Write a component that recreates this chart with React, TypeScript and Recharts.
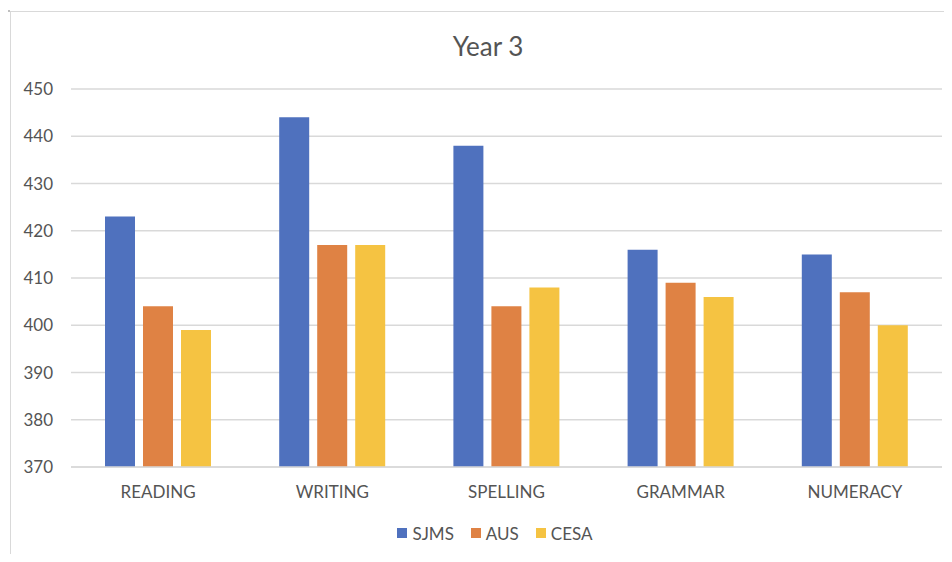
import { BarChart, Bar, XAxis, YAxis, CartesianGrid, Legend } from "recharts";

const categories = ["READING", "WRITING", "SPELLING", "GRAMMAR", "NUMERACY"];
const sjms = [423, 444, 438, 416, 415];
const aus = [404, 417, 404, 409, 407];
const cesa = [399, 417, 408, 406, 400];
const yTicks = [370, 380, 390, 400, 410, 420, 430, 440, 450];

const series = [
    { key: "SJMS", color: "#4F71BE" },
    { key: "AUS", color: "#DF8244" },
    { key: "CESA", color: "#F5C342" },
];

const data = categories.map((name, i) => ({
    name,
    SJMS: sjms[i],
    AUS: aus[i],
    CESA: cesa[i],
}));

const FONT = "Lato, 'Open Sans', sans-serif";
const TEXT = "#545454";

function LegendContent() {
    return (
        <div style={{ display: "flex", justifyContent: "center", alignItems: "center", height: 20, fontFamily: FONT, fontSize: 17, color: TEXT }}>
            {series.map((s, i) => (
                <div key={s.key} style={{ display: "flex", alignItems: "center", marginLeft: i === 0 ? 0 : 17 }}>
                    <span style={{ display: "inline-block", width: 10, height: 10, background: s.color, marginRight: 5 }} />
                    <span>{s.key}</span>
                </div>
            ))}
        </div>
    );
}

export default function App() {
    return (
        <div style={{ position: "relative", width: 952, height: 562, margin: -8, overflow: "hidden", background: "#fff" }}>
            {/* frame of the original chart area */}
            <div style={{ position: "absolute", left: 10, top: 11, width: 1000, height: 600, borderLeft: "1.5px solid #d9d9d9", borderTop: "1.5px solid #d9d9d9" }} />
            <div style={{ position: "absolute", left: 3, top: 10, width: 7, height: 1.5, background: "#bfbfbf" }} />
            <div style={{ position: "absolute", left: 0, width: 976, top: 30, textAlign: "center", fontFamily: FONT, fontSize: 26, color: TEXT, lineHeight: "32px" }}>
                Year 3
            </div>
            <div style={{ position: "absolute", left: 0, top: 0 }}>
                <BarChart
                    width={952}
                    height={562}
                    data={data}
                    margin={{ top: 89, right: 10, bottom: 19, left: 0 }}
                    barCategoryGap="19.5%"
                    barGap={8}
                >
                    <CartesianGrid horizontal vertical={false} stroke="#d9d9d9" strokeWidth={1.3} />
                    <XAxis
                        dataKey="name"
                        height={56}
                        tickSize={0}
                        tickMargin={19}
                        axisLine={{ stroke: "#d9d9d9", strokeWidth: 1.3 }}
                        tick={{ fill: TEXT, fontSize: 17, fontFamily: FONT }}
                    />
                    <YAxis
                        domain={[370, 450]}
                        ticks={yTicks}
                        width={71}
                        tickSize={0}
                        tickMargin={18}
                        axisLine={false}
                        tickLine={false}
                        tick={{ fill: TEXT, fontSize: 17, fontFamily: FONT }}
                    />
                    <Legend
                        verticalAlign="bottom"
                        content={() => <LegendContent />}
                        wrapperStyle={{ left: 30, width: 930 }}
                    />
                    {series.map((s) => (
                        <Bar key={s.key} dataKey={s.key} fill={s.color} barSize={30} isAnimationActive={false} />
                    ))}
                </BarChart>
            </div>
        </div>
    );
}
